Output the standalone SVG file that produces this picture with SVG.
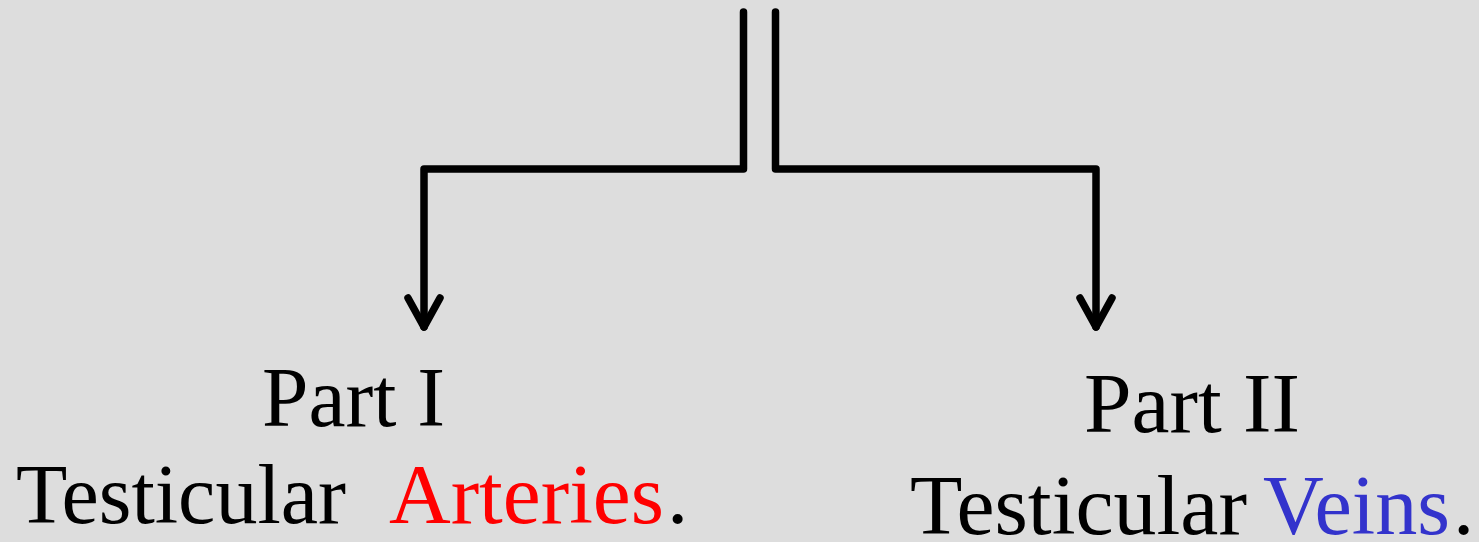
<svg xmlns="http://www.w3.org/2000/svg" width="1479" height="542" viewBox="0 0 1479 542">
  <defs>
    <style>
      .bg { fill: #dddddd; }
      .wire { fill: none; stroke: #000000; stroke-width: 7.5; stroke-linejoin: round; stroke-linecap: round; }
      .label { font-family: "Liberation Serif", "Times New Roman", serif; font-size: 85px; fill: #000000; }
      .artery { fill: #ff0000; }
      .vein { fill: #3333cc; }
    </style>
  </defs>

  <rect class="bg" x="0" y="0" width="1479" height="542"/>

  <!-- Connectors: two parallel trunks splitting left and right into arrows -->
  <g id="connectors">
    <path class="wire" d="M743.5 12 V169 H424 V327"/>
    <path class="wire" d="M408 298 L424 327 L440 298"/>
    <path class="wire" d="M775.5 12 V169 H1096 V327"/>
    <path class="wire" d="M1080 298 L1096 327 L1112 298"/>
  </g>

  <!-- Left branch -->
  <g id="part-1">
    <text class="label" x="262" y="426" textLength="183" lengthAdjust="spacingAndGlyphs">Part I</text>
    <text class="label" y="523"><tspan x="16" textLength="330" lengthAdjust="spacingAndGlyphs">Testicular</tspan><tspan class="artery" x="389" textLength="275" lengthAdjust="spacingAndGlyphs">Arteries</tspan><tspan x="667">.</tspan></text>
  </g>

  <!-- Right branch -->
  <g id="part-2">
    <text class="label" x="1084" y="432" textLength="216" lengthAdjust="spacingAndGlyphs">Part II</text>
    <text class="label" y="534"><tspan x="910" textLength="337" lengthAdjust="spacingAndGlyphs">Testicular</tspan><tspan class="vein" x="1263" textLength="187" lengthAdjust="spacingAndGlyphs">Veins</tspan><tspan x="1453">.</tspan></text>
  </g>
</svg>
